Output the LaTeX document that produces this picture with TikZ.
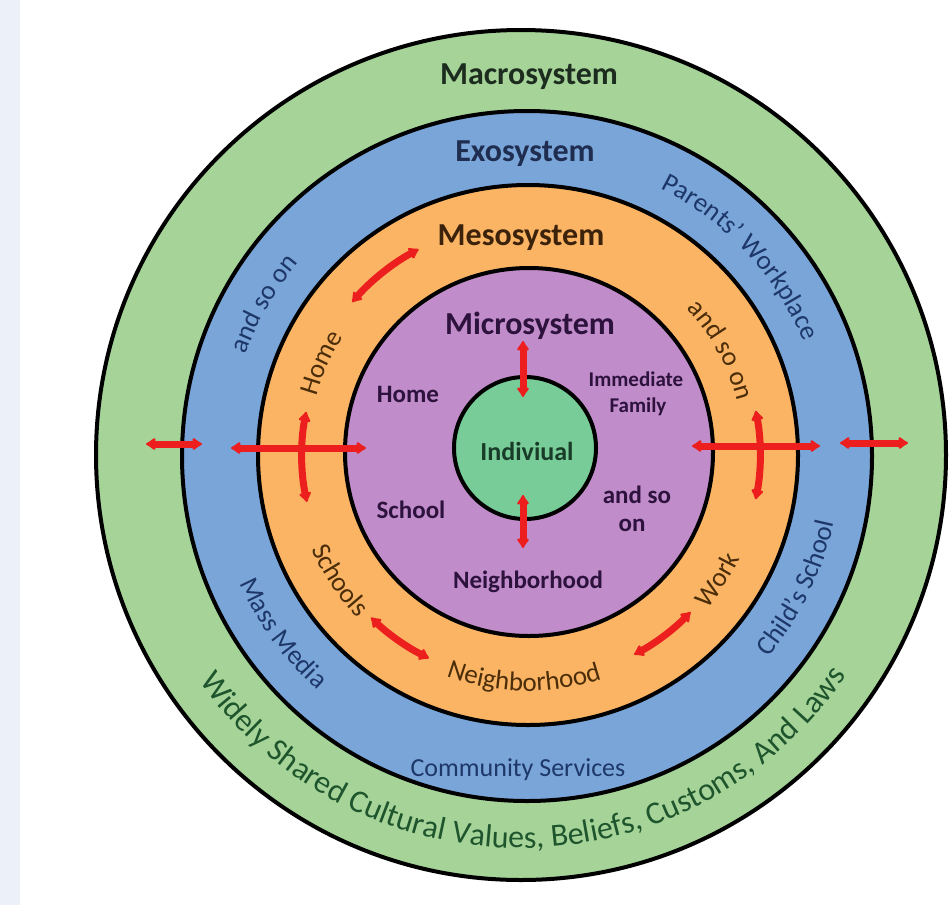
\documentclass[tikz,border=0pt]{standalone}
\usepackage{fontspec}
\setmainfont{Carlito}
\usetikzlibrary{arrows.meta,decorations.text,calc}

\definecolor{macrogreen}{RGB}{166,212,152}
\definecolor{exoblue}{RGB}{122,165,217}
\definecolor{mesoorange}{RGB}{250,180,100}
\definecolor{micropurple}{RGB}{192,140,202}
\definecolor{indgreen}{RGB}{120,204,152}
\definecolor{arrowred}{RGB}{236,30,30}
\definecolor{stripbg}{RGB}{236,240,248}
\definecolor{macrotxt}{RGB}{28,44,30}
\definecolor{exotxt}{RGB}{30,45,80}
\definecolor{mesotxt}{RGB}{60,34,10}
\definecolor{microtxt}{RGB}{45,18,62}
\definecolor{bluetxt}{RGB}{30,55,105}
\definecolor{orangetxt}{RGB}{75,45,10}
\definecolor{greentxt}{RGB}{30,85,45}
\definecolor{indtxt}{RGB}{25,60,40}

\newcommand\bandfont{\fontsize{27}{30}\selectfont}
\newcommand\macrofont{\fontsize{32}{36}\selectfont}

\begin{document}
\begin{tikzpicture}[x=1pt,y=1pt,
  ring/.style={draw=black, line width=4pt},
  titlelbl/.style={font=\fontsize{32}{36}\selectfont\bfseries, inner sep=0pt, anchor=base},
  microlbl/.style={font=\fontsize{25}{28}\selectfont\bfseries, text=microtxt, inner sep=0pt, anchor=base},
  smallmicro/.style={font=\fontsize{21}{24}\selectfont\bfseries, text=microtxt, inner sep=0pt, anchor=base},
  redarrow/.style={draw=arrowred, line width=7pt,
    {Latex[length=11pt,width=15pt,round]}-{Latex[length=11pt,width=15pt,round]}},
  bandtext/.style={decorate, decoration={text along path, text align=center, text color=#1}}
]
\path[use as bounding box] (0,0) rectangle (950,-905);
\fill[white] (0,0) rectangle (950,-905);
\fill[stripbg] (0,0) rectangle (20,-905);

% centres
\coordinate (cMacro) at (521,-455);
\coordinate (cExo) at (527,-456);
\coordinate (cMeso) at (528,-455);
\coordinate (cMicro) at (529,-452);
\coordinate (cInd) at (525,-448);

% rings
\filldraw[ring, fill=macrogreen] (cMacro) circle[radius=425];
\filldraw[ring, fill=exoblue] (cExo) circle[radius=345];
\filldraw[ring, fill=mesoorange] (cMeso) circle[radius=270];
\filldraw[ring, fill=micropurple] (cMicro) circle[radius=184];
\filldraw[ring, fill=indgreen] (cInd) circle[radius=71];

% straight titles
\node[titlelbl, text=macrotxt] (tMacro) at (529,-84) {Macrosystem};
\node[titlelbl, text=exotxt] (tExo) at (525,-161) {Exosystem};
\node[titlelbl, text=mesotxt] (tMeso) at (521,-245) {Mesosystem};
\node[titlelbl, text=microtxt] (tMicro) at (530,-334) {Microsystem};
\node[font=\fontsize{26}{28}\selectfont\bfseries, text=indtxt, anchor=base, inner sep=0pt] (tInd) at (527,-460) {Indiviual};

% microsystem labels
\node[microlbl] (tHome) at (408,-402) {Home};
\node[smallmicro] (tImm) at (636,-386) {Immediate};
\node[smallmicro] (tFam) at (638,-412) {Family};
\node[microlbl] (tSchool) at (411,-518) {School};
\node[microlbl] (tAndso) at (637,-503) {and so};
\node[microlbl] (tOn) at (632,-531) {on};
\node[microlbl] (tNeigh) at (528,-588) {Neighborhood};

% exosystem labels
\node[font=\fontsize{26}{28}\selectfont, text=bluetxt, anchor=base, inner sep=0pt] (tComm) at (518,-776) {Community Services};
\path[bandtext=bluetxt, decoration={text={|\bandfont|and so on}}]
  ($(cExo)+(185:299)$) arc[start angle=185, end angle=115, radius=299];
\path[bandtext=bluetxt, decoration={text={|\bandfont|Parents’ Workplace}}]
  ($(cExo)+(85:299)$) arc[start angle=85, end angle=1, radius=299];
\path[bandtext=bluetxt, decoration={text={|\bandfont|Mass Media}}]
  ($(cExo)+(182:314)$) arc[start angle=182, end angle=250, radius=314];
\path[bandtext=bluetxt, decoration={text={|\bandfont|Child’s School}}]
  ($(cExo)+(-70:314)$) arc[start angle=-70, end angle=18, radius=314];

% mesosystem labels
\path[bandtext=orangetxt, decoration={text={|\bandfont|Home}}]
  ($(cMeso)+(186:219)$) arc[start angle=186, end angle=126, radius=219];
\path[bandtext=orangetxt, decoration={text={|\bandfont|and so on}}]
  ($(cMeso)+(68:216)$) arc[start angle=68, end angle=-11, radius=216];
\path[bandtext=orangetxt, decoration={text={|\bandfont|Schools}}]
  ($(cMeso)+(184:236)$) arc[start angle=184, end angle=243.2, radius=236];
\path[bandtext=orangetxt, decoration={text={|\bandfont|Neighborhood}}]
  ($(cMeso)+(219:236)$) arc[start angle=219, end angle=319, radius=236];
\path[bandtext=orangetxt, decoration={text={|\bandfont|Work}}]
  ($(cMeso)+(-63:236)$) arc[start angle=-63, end angle=-3.8, radius=236];

% macrosystem label
\path[bandtext=greentxt, decoration={text={|\macrofont|Widely Shared Cultural Values, Beliefs, Customs, And Laws}}]
  ($(cMacro)+(200:393)$) arc[start angle=200, end angle=341, radius=393];

% arrow end points
\coordinate (a1l) at (146,-444);
\coordinate (a1r) at (202,-444);
\coordinate (a2l) at (231,-448);
\coordinate (a2r) at (366,-448);
\coordinate (a4l) at (692,-446);
\coordinate (a4r) at (820,-446);
\coordinate (a5l) at (840,-443);
\coordinate (a5r) at (908,-443);
\coordinate (a10t) at (523,-341);
\coordinate (a10b) at (523,-397);
\coordinate (a11t) at (523,-495);
\coordinate (a11b) at (523,-548);
\coordinate (a3s) at ($(cMeso)+(169:226)$);
\coordinate (a6s) at ($(cMeso)+(11:232)$);
\coordinate (a7s) at ($(cMeso)+(139:233)$);
\coordinate (a8s) at ($(cMeso)+(226:226)$);
\coordinate (a9s) at ($(cMeso)+(-62:226)$);

% arrows
\draw[redarrow] (a1l) -- (a1r);
\draw[redarrow] (a2l) -- (a2r);
\draw[redarrow] (a4l) -- (a4r);
\draw[redarrow] (a5l) -- (a5r);
\draw[redarrow] (a10t) -- (a10b);
\draw[redarrow] (a11t) -- (a11b);
\draw[redarrow] (a3s) arc[start angle=169, end angle=192, radius=226];
\draw[redarrow] (a6s) arc[start angle=11, end angle=-11, radius=232];
\draw[redarrow] (a7s) arc[start angle=139, end angle=118, radius=233];
\draw[redarrow] (a8s) arc[start angle=226, end angle=244, radius=226];
\draw[redarrow] (a9s) arc[start angle=-62, end angle=-44, radius=226];
\end{tikzpicture}
\end{document}
